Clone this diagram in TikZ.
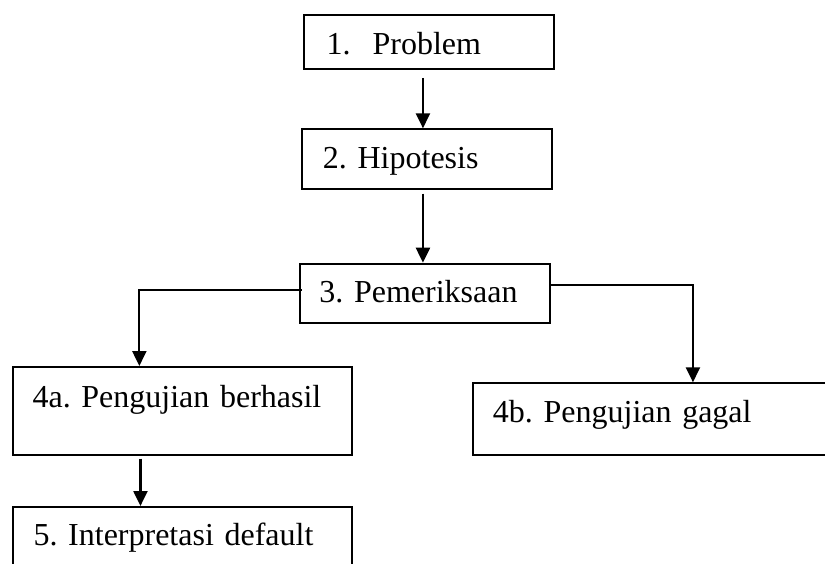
\documentclass[tikz,border=0pt]{standalone}
\usepackage{fontspec}
\setmainfont{Liberation Serif}
\usetikzlibrary{arrows.meta}
\begin{document}
\frenchspacing
\begin{tikzpicture}[x=1pt,y=-1pt,
  box/.style={draw, line width=1.9pt, inner ysep=0pt, align=left, anchor=north west,
              font=\fontsize{32}{38}\selectfont\frenchspacing},
  arr/.style={line width=2.2pt, -{Triangle[length=15pt,width=14pt]}}]
\clip (0,0) rectangle (825,563);
\node[box, inner xsep=23pt, text width=204pt, text height=39.7pt, text depth=14pt]
  (b1) at (302.7,14.3) {1.\hspace{22pt}Problem};
\node[box, inner xsep=21.2pt, text width=207.6pt, text height=39.7pt, text depth=20.3pt]
  (b2) at (300.8,128.3) {2. Hipotesis};
\node[box, inner xsep=19.6pt, text width=210.8pt, text height=39pt, text depth=20.3pt]
  (b3) at (298.8,262.7) {3. Pemeriksaan};
\node[box, inner xsep=20pt, text width=299.4pt, text height=41pt, text depth=47pt]
  (b4a) at (11.6,366) {4a. Pengujian berhasil};
\node[box, inner xsep=20pt, text width=330pt, text height=39.7pt, text depth=32pt]
  (b4b) at (472,382.3) {4b. Pengujian gagal};
\node[box, inner xsep=21pt, text width=297.4pt, text height=39pt, text depth=30pt]
  (b5) at (11.6,506) {5. Interpretasi default};
\draw[arr] ([xshift=-5.7pt,yshift=-8pt]b1.south) -- ([xshift=-5.7pt]b1.south |- b2.north);
\draw[arr] ([xshift=-3.8pt,yshift=-3.4pt]b2.south) -- ([xshift=-3.8pt]b2.south |- b3.north);
\draw[arr] ([xshift=3pt,yshift=3.3pt]b3.west) -| ([xshift=-42.9pt]b4a.north);
\draw[arr] ([yshift=8.3pt]b3.east) -| ([xshift=35pt]b4b.north);
\draw[arr] ([xshift=-41.8pt,yshift=-2.7pt]b4a.south) -- ([xshift=-41.8pt]b4a.south |- b5.north);
\end{tikzpicture}
\end{document}
